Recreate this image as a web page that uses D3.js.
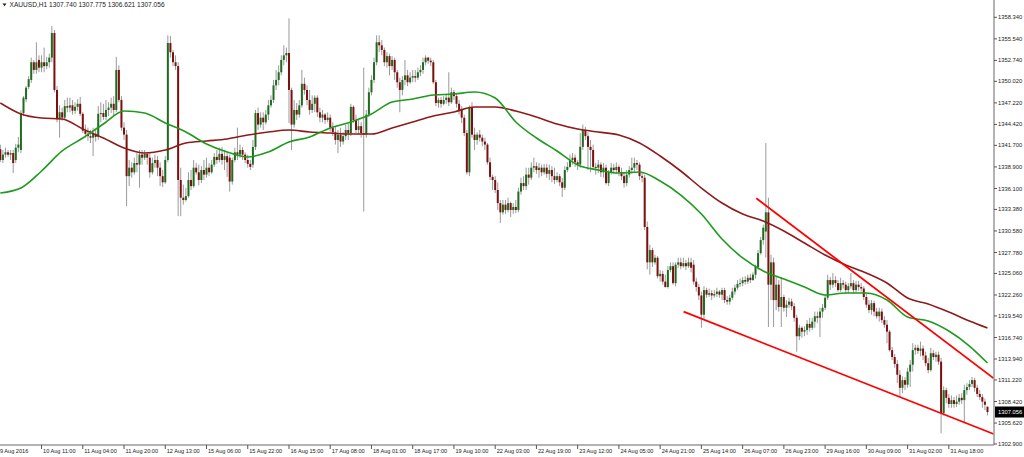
<!DOCTYPE html>
<html><head><meta charset="utf-8">
<script src="https://cdn.jsdelivr.net/npm/d3@7"></script>
<style>html,body{margin:0;padding:0;background:#fff;overflow:hidden}svg{display:block}</style>
</head><body><svg id="c" width="1024" height="457"></svg>
<script>
const title = "XAUUSD,H1  1307.740 1307.775 1306.621 1307.056";
const lastPrice = 1307.056;
const opens = [
1341.2,1339.8,1340.5,1340.8,1340.5,1340.7,1339.8,1341.4,1341.1,1345.9,1347.7,1349.3,1350.2,1352.5,1351.5,1352.8,
1351.8,1352.5,1352.0,1352.5,1353.1,1356.3,1348.9,1345.1,1346.0,1345.3,1346.8,1346.6,1346.9,1346.2,1346.7,1347.1,
1345.8,1343.6,1343.2,1342.9,1342.7,1343.2,1342.8,1345.8,1345.9,1345.4,1346.3,1346.6,1347.1,1346.3,1351.5,1347.6,
1344.0,1343.1,1337.7,1338.8,1338.2,1339.4,1339.2,1340.5,1340.1,1340.6,1340.1,1338.2,1339.4,1339.8,1338.8,1337.7,
1336.9,1339.8,1355.0,1353.8,1352.5,1352.0,1337.2,1334.9,1334.6,1335.1,1337.2,1336.4,1338.8,1338.2,1337.2,1338.5,
1337.9,1338.8,1338.2,1339.2,1340.2,1339.8,1340.6,1339.8,1340.3,1340.1,1337.0,1339.8,1340.8,1340.5,1341.1,1340.5,
1339.8,1339.3,1339.2,1341.5,1345.9,1344.4,1345.3,1344.7,1345.7,1346.9,1347.6,1349.5,1350.2,1351.2,1352.8,1353.4,
1353.7,1348.9,1344.4,1346.3,1345.7,1346.9,1349.7,1348.9,1347.6,1346.3,1347.1,1347.9,1346.0,1345.3,1345.7,1345.0,
1345.3,1344.0,1343.4,1342.4,1343.1,1342.2,1342.9,1343.7,1343.3,1346.7,1345.0,1343.7,1344.2,1343.3,1343.1,1345.7,
1348.6,1350.2,1352.5,1355.1,1354.7,1354.1,1352.5,1353.3,1352.0,1352.8,1351.2,1349.9,1348.9,1350.2,1350.8,1349.9,
1350.5,1350.7,1350.5,1351.2,1351.5,1352.5,1353.1,1352.7,1352.5,1349.9,1347.2,1347.6,1347.1,1347.6,1347.9,1347.3,
1348.6,1348.1,1347.1,1346.3,1345.3,1343.3,1338.2,1346.6,1343.1,1342.4,1343.1,1342.7,1342.2,1341.8,1339.5,1337.6,
1337.2,1335.9,1334.2,1333.0,1334.0,1333.3,1334.2,1333.3,1333.7,1333.3,1335.7,1336.8,1336.4,1337.9,1337.5,1338.8,
1339.0,1338.5,1338.8,1338.2,1338.8,1338.0,1338.5,1337.7,1337.2,1337.7,1336.9,1336.2,1338.5,1338.9,1339.8,1340.1,
1339.5,1339.2,1341.5,1343.7,1342.9,1341.5,1341.1,1338.9,1338.8,1339.2,1338.2,1338.8,1336.8,1338.2,1338.8,1338.5,
1338.9,1338.2,1337.7,1336.8,1337.9,1338.5,1338.8,1339.4,1339.2,1337.7,1337.5,1331.1,1326.5,1328.1,1326.5,1327.1,
1324.7,1325.0,1324.0,1323.3,1325.5,1326.0,1323.8,1326.2,1326.5,1326.0,1326.4,1326.0,1326.5,1326.2,1324.0,1323.3,
1322.2,1319.7,1322.9,1322.3,1322.5,1322.2,1322.4,1322.7,1322.3,1322.9,1321.6,1321.4,1321.9,1322.7,1323.2,1323.7,
1323.8,1324.2,1324.0,1324.5,1324.2,1324.9,1325.9,1327.7,1329.4,1330.5,1333.0,1323.6,1326.5,1321.6,1323.6,1320.7,
1322.0,1320.6,1321.0,1321.4,1320.8,1319.3,1316.9,1318.0,1317.5,1317.7,1318.5,1318.0,1318.8,1319.5,1319.3,1320.1,
1320.6,1321.9,1324.2,1323.6,1324.2,1323.8,1322.9,1323.8,1323.6,1322.9,1323.4,1323.8,1322.9,1323.6,1323.3,1323.1,
1322.0,1321.0,1320.3,1321.2,1320.1,1319.5,1320.1,1319.0,1318.4,1317.5,1315.1,1314.2,1313.3,1311.9,1310.2,1311.2,
1310.6,1312.3,1313.2,1315.1,1315.4,1315.0,1315.3,1314.4,1313.4,1312.5,1314.7,1314.2,1314.5,1313.6,1306.9,1309.9,
1308.9,1308.1,1308.6,1308.1,1308.4,1308.9,1308.6,1309.9,1310.3,1310.7,1311.2,1310.2,1309.4,1309.0,1308.4,1307.74];
const highs = [
1341.8,1341.1,1341.4,1341.1,1341.1,1341.1,1341.9,1342.8,1346.3,1348.1,1349.4,1350.7,1353.1,1352.8,1355.1,1353.4,
1353.4,1354.4,1353.2,1353.6,1357.2,1356.7,1349.4,1346.9,1346.6,1347.6,1347.9,1347.9,1347.6,1347.3,1347.7,1348.0,
1346.0,1344.4,1344.0,1343.7,1344.0,1343.7,1346.8,1347.3,1347.1,1347.6,1347.3,1347.9,1348.1,1353.2,1352.1,1348.1,
1344.7,1343.7,1339.8,1339.5,1340.1,1340.7,1341.1,1341.1,1341.1,1340.8,1340.7,1340.1,1340.5,1340.3,1339.5,1338.5,
1340.3,1356.0,1355.9,1354.1,1353.4,1352.5,1338.8,1336.6,1336.2,1338.2,1338.5,1339.8,1339.4,1339.2,1339.0,1339.8,
1340.1,1339.4,1339.8,1340.7,1341.1,1341.4,1341.5,1341.1,1340.8,1340.5,1340.1,1341.4,1344.0,1341.8,1341.5,1340.8,
1340.5,1339.8,1342.4,1346.3,1346.6,1346.0,1346.0,1346.3,1347.6,1348.2,1350.2,1351.5,1352.1,1353.4,1354.7,1354.4,
1358.2,1349.2,1347.6,1347.2,1347.6,1351.5,1350.5,1349.5,1348.9,1348.2,1348.2,1348.2,1346.6,1346.3,1345.9,1346.0,
1345.7,1344.7,1344.1,1343.7,1344.0,1343.4,1344.4,1344.5,1347.1,1346.9,1345.7,1345.0,1344.7,1351.8,1346.3,1349.2,
1350.8,1353.1,1356.0,1356.0,1355.4,1354.4,1353.8,1353.6,1353.3,1353.1,1351.5,1350.5,1350.7,1352.8,1351.5,1351.2,
1351.5,1351.5,1351.8,1352.1,1353.1,1353.4,1353.2,1353.1,1352.8,1350.2,1347.9,1348.0,1348.1,1348.4,1351.2,1349.2,
1348.9,1348.4,1347.6,1346.8,1345.7,1343.7,1346.9,1347.3,1344.0,1343.4,1343.7,1343.1,1342.7,1342.0,1340.1,1337.9,
1337.7,1336.9,1334.6,1334.6,1334.6,1334.9,1334.4,1334.2,1334.6,1336.2,1337.5,1337.7,1338.8,1338.8,1339.5,1340.1,
1339.5,1339.4,1339.2,1339.3,1339.3,1339.2,1339.0,1338.8,1338.2,1338.0,1337.5,1339.0,1339.5,1340.5,1340.7,1340.5,
1339.8,1343.3,1344.4,1344.1,1343.4,1342.4,1341.8,1339.4,1339.8,1339.5,1339.4,1339.2,1338.5,1339.4,1339.3,1339.5,
1339.2,1338.8,1338.2,1338.5,1339.0,1340.1,1340.1,1339.8,1339.5,1338.2,1337.9,1331.8,1328.8,1328.4,1327.5,1327.3,
1325.5,1325.4,1324.9,1326.0,1326.5,1326.5,1326.5,1327.1,1327.1,1327.1,1326.8,1327.1,1327.1,1326.8,1324.5,1323.7,
1322.7,1323.4,1323.2,1323.1,1322.9,1322.9,1323.2,1322.9,1323.2,1323.2,1322.1,1322.3,1323.2,1323.6,1324.2,1324.4,
1324.6,1324.7,1324.9,1325.0,1325.2,1326.2,1328.1,1329.8,1331.4,1342.0,1334.9,1327.5,1327.1,1324.6,1324.2,1324.6,
1322.3,1321.6,1321.9,1321.8,1321.2,1319.7,1318.4,1318.2,1318.2,1319.0,1319.3,1319.3,1320.1,1320.1,1320.6,1321.1,
1322.4,1324.9,1324.6,1325.1,1324.7,1324.2,1324.5,1324.2,1324.0,1323.8,1325.1,1324.2,1324.1,1324.1,1323.8,1323.4,
1322.5,1321.6,1321.6,1321.5,1320.6,1320.6,1320.5,1319.5,1319.0,1317.7,1315.5,1314.6,1313.8,1312.5,1311.7,1311.6,
1312.8,1313.8,1316.0,1315.8,1315.8,1316.2,1315.7,1314.9,1314.1,1315.4,1315.1,1314.9,1314.9,1314.1,1310.4,1310.2,
1309.4,1309.2,1309.0,1309.2,1309.4,1309.5,1310.6,1310.8,1311.2,1311.6,1311.5,1310.6,1309.9,1309.4,1308.8,1307.775];
const lows = [
1339.5,1339.4,1340.1,1340.2,1339.8,1338.1,1339.4,1340.8,1340.7,1345.5,1347.3,1349.0,1349.8,1351.0,1351.0,1351.2,
1351.2,1351.2,1351.6,1351.8,1352.5,1348.6,1344.7,1342.7,1344.9,1345.0,1346.0,1346.0,1345.7,1345.8,1346.2,1345.5,
1343.3,1342.7,1342.3,1342.0,1340.3,1342.2,1342.4,1344.7,1345.0,1345.0,1345.5,1345.9,1345.5,1346.0,1347.3,1343.6,
1342.4,1333.8,1336.4,1337.5,1337.9,1338.2,1336.2,1339.2,1339.8,1339.2,1337.5,1337.9,1338.8,1337.7,1336.4,1336.3,
1336.7,1339.5,1353.1,1352.0,1351.5,1332.5,1332.5,1334.0,1334.4,1334.9,1335.9,1336.2,1337.9,1336.5,1336.8,1337.2,
1337.5,1337.7,1338.0,1338.9,1339.3,1339.5,1339.2,1338.5,1337.6,1335.7,1336.6,1339.5,1339.8,1340.1,1339.8,1339.4,
1338.8,1338.5,1338.8,1341.1,1343.7,1344.0,1343.7,1344.4,1345.0,1346.6,1347.2,1348.9,1349.5,1350.8,1352.1,1352.5,
1344.6,1341.1,1344.0,1345.0,1345.3,1346.6,1348.3,1346.9,1345.7,1345.9,1346.0,1345.4,1344.7,1344.7,1344.5,1344.7,
1343.5,1342.9,1341.8,1340.7,1341.5,1341.8,1342.4,1342.4,1342.9,1344.6,1343.3,1343.1,1342.7,1333.1,1342.7,1345.4,
1348.2,1349.8,1352.1,1353.8,1353.4,1352.0,1351.8,1350.8,1351.5,1350.2,1349.2,1346.0,1348.2,1349.5,1349.4,1349.7,
1349.9,1349.9,1350.2,1350.7,1351.0,1352.1,1352.3,1352.0,1349.7,1346.8,1346.6,1346.6,1346.9,1347.1,1346.8,1347.1,
1347.6,1346.6,1345.7,1344.6,1342.9,1337.9,1337.7,1342.7,1341.1,1341.8,1342.2,1341.6,1341.1,1339.2,1337.2,1335.9,
1335.5,1333.3,1331.6,1332.7,1332.8,1333.0,1332.4,1332.8,1332.9,1333.0,1335.3,1335.9,1335.9,1336.6,1337.2,1338.2,
1338.0,1337.5,1337.7,1337.9,1337.5,1337.2,1336.9,1336.7,1336.9,1336.4,1335.0,1335.9,1338.2,1338.8,1339.2,1338.9,
1338.5,1338.8,1341.1,1342.4,1338.5,1338.2,1338.5,1337.9,1338.1,1337.6,1337.5,1336.6,1336.4,1337.9,1338.0,1338.0,
1337.7,1337.2,1336.2,1336.4,1337.5,1338.0,1338.2,1338.5,1337.2,1336.9,1330.7,1325.6,1324.9,1325.9,1326.2,1324.4,
1324.0,1323.6,1323.2,1323.1,1325.2,1323.6,1323.4,1325.8,1325.6,1325.8,1325.5,1325.8,1325.2,1323.6,1322.7,1321.6,
1318.0,1319.0,1321.9,1322.0,1321.6,1321.9,1322.0,1321.9,1321.6,1321.2,1321.0,1321.0,1321.6,1322.3,1322.9,1323.3,
1323.4,1323.6,1323.7,1323.8,1324.1,1324.4,1325.5,1327.5,1328.8,1327.1,1318.1,1321.6,1318.1,1320.3,1320.1,1318.1,
1320.1,1319.4,1320.6,1320.3,1318.8,1314.9,1316.4,1316.7,1316.9,1317.1,1317.5,1317.7,1318.0,1318.6,1316.8,1319.3,
1320.3,1321.6,1322.9,1323.2,1323.3,1322.7,1322.7,1323.1,1322.4,1322.5,1323.1,1322.4,1322.5,1322.8,1322.7,1321.6,
1320.6,1319.9,1319.7,1319.5,1319.2,1318.8,1318.6,1318.0,1316.0,1314.9,1313.8,1312.8,1310.8,1309.0,1309.5,1309.9,
1310.2,1310.3,1312.3,1314.5,1314.6,1314.3,1313.8,1313.0,1312.1,1312.3,1313.8,1313.6,1313.2,1304.3,1306.6,1308.2,
1307.6,1307.6,1307.6,1307.7,1308.0,1308.1,1305.6,1309.3,1309.9,1310.3,1309.7,1309.0,1308.6,1307.6,1307.3,1306.621];
const closes = [
1339.8,1340.5,1340.8,1340.5,1340.7,1339.4,1341.4,1341.8,1345.9,1347.9,1349.2,1350.3,1352.5,1351.5,1352.5,1351.8,
1352.5,1352.0,1352.5,1353.1,1356.3,1348.9,1345.1,1346.0,1345.3,1346.8,1346.6,1346.9,1346.2,1346.7,1347.1,1345.8,
1343.6,1343.2,1342.9,1342.7,1343.2,1342.8,1345.8,1345.9,1345.4,1346.3,1346.6,1347.1,1346.3,1351.5,1347.6,1344.0,
1343.1,1337.7,1338.8,1338.2,1339.4,1339.2,1340.5,1340.1,1340.6,1340.1,1338.2,1339.4,1339.8,1338.8,1337.7,1336.9,
1339.8,1355.0,1353.8,1352.5,1352.0,1337.2,1334.9,1334.6,1335.1,1337.2,1336.4,1338.8,1338.2,1337.2,1338.5,1337.9,
1338.8,1338.2,1339.2,1340.2,1339.8,1340.6,1339.8,1340.3,1339.5,1337.0,1339.8,1340.8,1340.5,1341.1,1340.5,1339.8,
1339.3,1338.9,1341.5,1345.9,1344.4,1345.3,1344.7,1345.7,1346.9,1347.6,1349.5,1350.2,1351.2,1352.8,1353.4,1353.7,
1348.9,1344.4,1346.3,1345.7,1346.9,1349.7,1348.9,1347.6,1346.3,1347.1,1347.9,1346.0,1345.3,1345.7,1345.0,1345.3,
1344.0,1343.4,1342.4,1343.1,1342.2,1342.9,1343.7,1343.3,1346.7,1345.0,1343.7,1344.2,1343.3,1343.1,1345.7,1348.6,
1350.2,1352.5,1355.1,1354.7,1354.1,1352.5,1353.3,1352.0,1352.8,1351.2,1349.9,1348.9,1350.2,1350.8,1349.9,1350.5,
1350.7,1350.5,1351.2,1351.5,1352.5,1353.1,1352.7,1352.5,1349.9,1347.2,1347.6,1347.1,1347.6,1347.9,1347.3,1348.6,
1348.1,1347.1,1346.3,1345.3,1343.3,1338.2,1346.6,1343.1,1342.4,1343.1,1342.7,1342.2,1341.8,1339.5,1337.6,1337.2,
1335.9,1334.2,1333.0,1334.0,1333.3,1334.2,1333.3,1333.7,1333.3,1335.7,1336.8,1336.4,1337.9,1337.5,1338.8,1339.0,
1338.5,1338.8,1338.2,1338.8,1338.0,1338.5,1337.7,1337.2,1337.7,1336.9,1336.2,1338.5,1338.9,1339.8,1340.1,1339.5,
1339.2,1341.5,1343.7,1342.9,1341.5,1341.1,1338.9,1338.8,1339.2,1338.2,1338.8,1336.8,1338.2,1338.8,1338.5,1338.9,
1338.2,1337.7,1336.8,1337.9,1338.5,1338.8,1339.4,1339.2,1337.7,1337.5,1331.1,1326.5,1328.1,1326.5,1327.1,1324.7,
1325.0,1324.0,1323.3,1325.5,1326.0,1323.8,1326.2,1326.5,1326.0,1326.4,1326.0,1326.5,1325.8,1324.0,1323.3,1322.2,
1319.7,1322.9,1322.3,1322.5,1322.2,1322.4,1322.7,1322.3,1322.9,1321.6,1321.4,1321.9,1322.7,1323.2,1323.7,1323.8,
1324.2,1324.0,1324.5,1324.2,1324.9,1325.9,1327.7,1329.4,1331.0,1333.0,1323.6,1326.5,1321.6,1323.6,1320.7,1322.0,
1320.6,1321.0,1321.4,1320.8,1319.3,1316.9,1318.0,1317.5,1317.7,1318.5,1318.0,1318.8,1319.5,1319.3,1320.1,1320.6,
1321.9,1324.2,1323.6,1324.2,1323.8,1322.9,1323.8,1323.6,1322.9,1323.4,1323.8,1322.9,1323.6,1323.3,1323.1,1322.0,
1321.0,1320.3,1321.2,1320.1,1319.5,1320.1,1319.0,1318.4,1317.5,1315.1,1314.2,1313.3,1311.9,1310.2,1311.2,1310.6,
1312.3,1313.2,1315.1,1315.4,1315.0,1315.3,1314.4,1313.4,1312.5,1314.7,1314.2,1314.5,1313.6,1306.9,1309.9,1308.9,
1308.1,1308.6,1308.1,1308.4,1308.9,1308.6,1309.9,1310.3,1310.7,1311.2,1310.2,1309.4,1309.0,1308.4,1308.0,1307.056];

// moving averages read every 8 bars (bar index -> value)
const maBars = [0,8,16,24,32,40,48,56,64,72,80,88,96,104,112,120,128,136,144,152,160,168,176,184,192,200,208,216,224,232,240,248,256,264,272,280,288,296,304,312,320,328,336,344,352,360,368,376,383];
const maFast = [1335.51,1336.16,1338.37,1340.97,1342.66,1344.48,1346.16,1345.90,1344.61,1343.43,1341.87,1340.84,1340.19,1340.84,1342.13,1342.79,1343.96,1344.74,1345.77,1347.33,1347.72,1348.24,1348.37,1348.63,1347.85,1344.74,1342.66,1340.97,1339.15,1338.50,1338.11,1338.24,1337.07,1335.25,1332.78,1329.53,1327.07,1325.38,1324.34,1323.30,1322.26,1322.52,1322.52,1321.61,1319.40,1318.88,1317.58,1315.63,1313.42];
const maSlow = [1347.20,1345.77,1345.25,1345.12,1343.83,1342.66,1341.36,1340.71,1341.10,1342.01,1342.27,1342.53,1343.05,1343.43,1343.69,1343.43,1343.30,1343.17,1343.17,1343.96,1344.74,1345.51,1346.03,1346.68,1346.68,1346.16,1345.38,1344.48,1343.83,1343.43,1343.05,1342.01,1340.32,1338.37,1336.16,1334.21,1332.78,1331.87,1330.57,1329.01,1327.45,1326.16,1325.12,1323.82,1321.87,1321.09,1320.05,1318.88,1317.97];

// trend lines [bar index, price]
const trendUpper = [[293.3,1334.82],[385.4,1311.44]];
const trendLower = [[265.1,1320.09],[385.4,1304.20]];

const priceTicks = [1358.340,1355.540,1352.740,1350.020,1347.220,1344.420,1341.700,1338.900,1336.100,1333.380,1330.580,1327.780,1325.060,1322.260,1319.540,1316.740,1313.940,1311.220,1308.420,1305.620,1302.900];
const timeLabels = ["9 Aug 2016","10 Aug 11:00","11 Aug 04:00","11 Aug 20:00","12 Aug 13:00","15 Aug 06:00","15 Aug 22:00","16 Aug 15:00","17 Aug 08:00","18 Aug 01:00","18 Aug 17:00","19 Aug 10:00","22 Aug 03:00","22 Aug 19:00","23 Aug 12:00","24 Aug 05:00","24 Aug 21:00","25 Aug 14:00","26 Aug 07:00","26 Aug 23:00","29 Aug 16:00","30 Aug 09:00","31 Aug 02:00","31 Aug 18:00"];
const timeLabelBars = [0,16,32,48,64,80,96,112,128,144,160,176,192,208,224,240,256,272,288,304,320,336,352,368];

const svg = d3.select('#c');
const plotR = 994, plotB = 445;
const x = d3.scaleLinear().domain([0,383]).range([0.3,987.5]);
const y = d3.scaleLinear().domain([1302.9,1358.34]).range([444,17.3]);
const font = "'Liberation Sans', Arial, sans-serif";

svg.append('defs').append('clipPath').attr('id','plot').append('rect')
  .attr('x',0).attr('y',0).attr('width',plotR).attr('height',plotB);
const g = svg.append('g').attr('clip-path','url(#plot)');

const bars = closes.map((c,i)=>({i,o:opens[i],h:highs[i],l:lows[i],c}));
g.selectAll('line.wick').data(bars).join('line').attr('class','wick')
  .attr('x1',d=>x(d.i)).attr('x2',d=>x(d.i))
  .attr('y1',d=>y(d.h)).attr('y2',d=>y(d.l))
  .attr('stroke','#9a9a9a').attr('stroke-width',1);
g.selectAll('rect.body').data(bars).join('rect').attr('class','body')
  .attr('x',d=>x(d.i)-1).attr('width',2)
  .attr('y',d=>y(Math.max(d.o,d.c)))
  .attr('height',d=>Math.max(1,Math.abs(y(d.o)-y(d.c))))
  .attr('fill',d=>d.c>=d.o?'#1f6b1f':'#7d0f0f');

const maLine = d3.line().x(d=>x(d[0])).y(d=>y(d[1])).curve(d3.curveMonotoneX);
g.append('path').attr('d',maLine(maBars.map((b,k)=>[b,maSlow[k]])))
  .attr('fill','none').attr('stroke','#8e1a1a').attr('stroke-width',1.6);
g.append('path').attr('d',maLine(maBars.map((b,k)=>[b,maFast[k]])))
  .attr('fill','none').attr('stroke','#1e9a1e').attr('stroke-width',1.6);

const tl = d3.line().x(d=>x(d[0])).y(d=>y(d[1]));
[trendUpper,trendLower].forEach(t=>{
  g.append('path').attr('d',tl(t)).attr('fill','none').attr('stroke','#ff0000').attr('stroke-width',1.8);
});

// axes frame
svg.append('line').attr('x1',plotR).attr('x2',plotR).attr('y1',0).attr('y2',plotB)
  .attr('stroke','#9a9a9a').attr('stroke-width',1.5);
svg.append('line').attr('x1',0).attr('x2',plotR).attr('y1',plotB).attr('y2',plotB)
  .attr('stroke','#9a9a9a').attr('stroke-width',1.5);

// price axis
const pa = svg.append('g');
priceTicks.forEach(v=>{
  pa.append('line').attr('x1',plotR).attr('x2',plotR+3).attr('y1',y(v)).attr('y2',y(v)).attr('stroke','#555');
  pa.append('text').attr('x',plotR+4).attr('y',y(v)).attr('dy','0.35em')
    .attr('font-family',font).attr('font-size',5.8).attr('fill','#222').text(v.toFixed(3));
});
// current price tag
pa.append('rect').attr('x',plotR+1).attr('y',y(lastPrice)-5.5).attr('width',30).attr('height',11).attr('fill','#000');
pa.append('text').attr('x',plotR+4).attr('y',y(lastPrice)).attr('dy','0.35em')
  .attr('font-family',font).attr('font-size',5.8).attr('fill','#fff').text(lastPrice.toFixed(3));

// time axis
const ta = svg.append('g');
timeLabels.forEach((t,k)=>{
  const px = x(timeLabelBars[k]);
  if(k>0) ta.append('line').attr('x1',px).attr('x2',px).attr('y1',plotB).attr('y2',plotB+4).attr('stroke','#555');
  ta.append('text').attr('x',k>0?px+1.5:0).attr('y',453)
    .attr('font-family',font).attr('font-size',5.6).attr('fill','#222').text(t);
});

// title
svg.append('path').attr('d','M2.5,3.5 L6.5,3.5 L4.5,6.2 Z').attr('fill','#222');
svg.append('text').attr('x',9.5).attr('y',7.3).attr('font-family',font).attr('font-size',6.6)
  .attr('fill','#222').text(title);
</script>
</body></html>
